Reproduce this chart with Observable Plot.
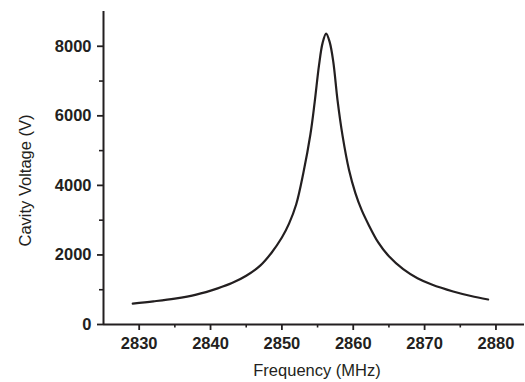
<!DOCTYPE html>
<html>
<head>
<meta charset="utf-8">
<script src="https://cdn.jsdelivr.net/npm/d3@7"></script>
<script src="https://cdn.jsdelivr.net/npm/@observablehq/plot@0.6"></script>
<style>
  html, body { margin: 0; padding: 0; background: #fff; }
  #chart svg { display: block; }
  #chart g[aria-label$="tick label"] { font-weight: bold; font-size: 16.5px; }
</style>
</head>
<body>
<div id="chart"></div>
<script>
const freq = [2829.1, 2832, 2835, 2838, 2841, 2843, 2845, 2847, 2848.5, 2850, 2851, 2852, 2853, 2854, 2854.6, 2855.2, 2855.7, 2856.2, 2856.7, 2857.2, 2857.8, 2858.5, 2859.4, 2860.3, 2861.2, 2862.2, 2863.5, 2865, 2867, 2869, 2871, 2874, 2876.5, 2878.9];
const volt = [600, 665, 745, 860, 1040, 1190, 1400, 1700, 2050, 2500, 2900, 3450, 4350, 5470, 6400, 7450, 8090, 8365, 8120, 7560, 6446, 5430, 4450, 3780, 3280, 2850, 2360, 1960, 1590, 1330, 1150, 950, 820, 720];
const xTicks = [2830, 2840, 2850, 2860, 2870, 2880];
const xMinor = [2835, 2845, 2855, 2865, 2875];
const yTicks = [0, 2000, 4000, 6000, 8000];
const yMinor = [1000, 3000, 5000, 7000];
const xLabel = "Frequency (MHz)";
const yLabel = "Cavity Voltage (V)";

const data = freq.map((f, i) => ({f, v: volt[i]}));
const ink = "#231f20";

const plot = Plot.plot({
  width: 525,
  height: 382,
  marginLeft: 103,
  marginRight: 1,
  marginTop: 11,
  marginBottom: 58,
  style: {fontFamily: "'Liberation Sans', Arial, sans-serif", fontSize: "16px", color: ink, background: "#fff"},
  x: {domain: [2825, 2884]},
  y: {domain: [0, 9000]},
  marks: [
    Plot.axisX(xMinor, {tickSize: 3.5, strokeWidth: 1.6, tickFormat: () => "", label: null}),
    Plot.axisY(yMinor, {tickSize: 4, strokeWidth: 1.6, tickFormat: () => "", label: null}),
    Plot.axisX(xTicks, {tickSize: 6, tickPadding: 7, strokeWidth: 1.8, tickFormat: (d) => String(d), fontWeight: "bold", fontSize: 16.5, label: null}),
    Plot.axisY(yTicks, {tickSize: 6, tickPadding: 6, strokeWidth: 1.8, tickFormat: (d) => String(d), fontWeight: "bold", fontSize: 16.5, label: null}),
    Plot.ruleX([2825], {stroke: ink, strokeWidth: 2}),
    Plot.ruleY([0], {stroke: ink, strokeWidth: 2}),
    Plot.line(data, {x: "f", y: "v", stroke: ink, strokeWidth: 2.2, curve: "catmull-rom"}),
    Plot.text([yLabel], {frameAnchor: "left", dx: -78, dy: 12.5, rotate: -90, textAnchor: "middle", lineAnchor: "middle", fontSize: 16.5, fill: ink}),
    Plot.text([xLabel], {frameAnchor: "bottom", dx: 3, dy: 46, textAnchor: "middle", lineAnchor: "middle", fontSize: 16.5, fill: ink})
  ]
});
document.getElementById("chart").appendChild(plot);
</script>
</body>
</html>
